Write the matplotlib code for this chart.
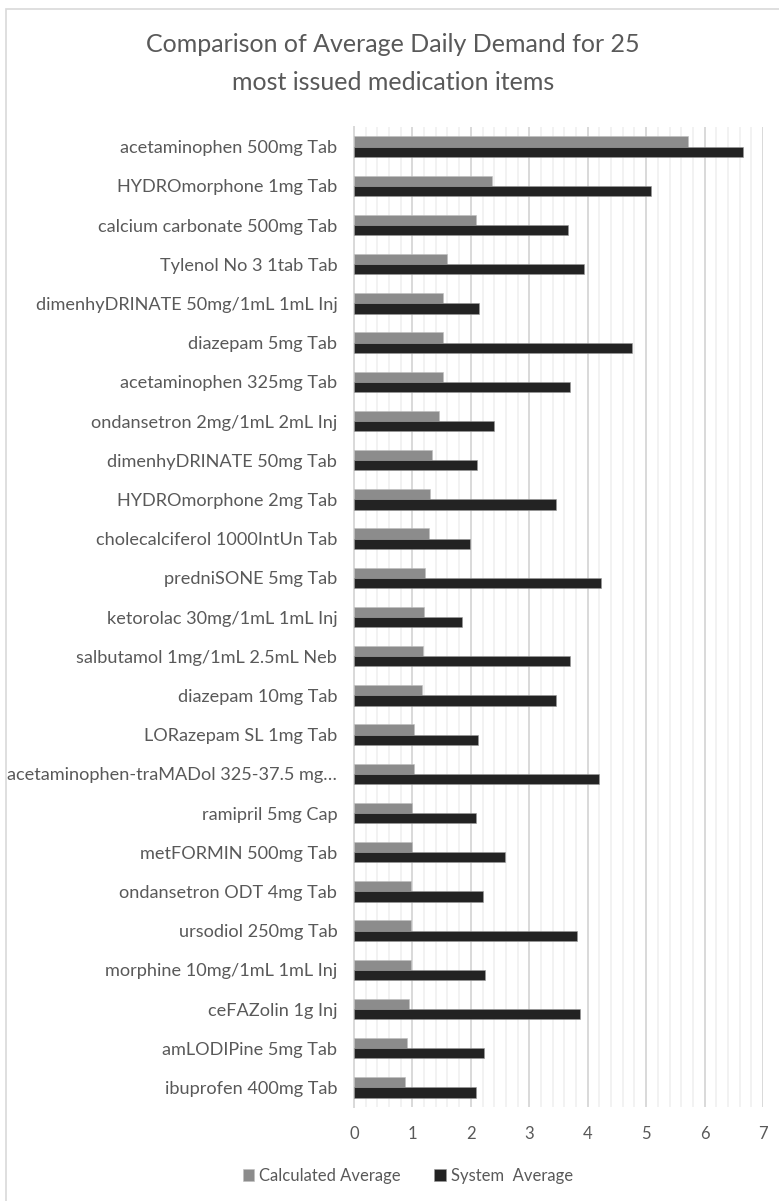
import numpy as np
import matplotlib as mpl
mpl.use("Agg")
import matplotlib.pyplot as plt
from matplotlib.patches import Rectangle
from matplotlib.ticker import MultipleLocator

plt.rcParams["font.family"] = ["Lato", "DejaVu Sans"]

ITEMS = [
    "acetaminophen 500mg Tab",
    "HYDROmorphone 1mg Tab",
    "calcium carbonate 500mg Tab",
    "Tylenol No 3 1tab Tab",
    "dimenhyDRINATE 50mg/1mL 1mL Inj",
    "diazepam 5mg Tab",
    "acetaminophen 325mg Tab",
    "ondansetron 2mg/1mL 2mL Inj",
    "dimenhyDRINATE 50mg Tab",
    "HYDROmorphone 2mg Tab",
    "cholecalciferol 1000IntUn Tab",
    "predniSONE 5mg Tab",
    "ketorolac 30mg/1mL 1mL Inj",
    "salbutamol 1mg/1mL 2.5mL Neb",
    "diazepam 10mg Tab",
    "LORazepam SL 1mg Tab",
    "acetaminophen-traMADol 325-37.5 mg\u2026",
    "ramipril 5mg Cap",
    "metFORMIN 500mg Tab",
    "ondansetron ODT 4mg Tab",
    "ursodiol 250mg Tab",
    "morphine 10mg/1mL 1mL Inj",
    "ceFAZolin 1g Inj",
    "amLODIPine 5mg Tab",
    "ibuprofen 400mg Tab",
]
CALCULATED = [5.72, 2.36, 2.09, 1.59, 1.52, 1.52, 1.52, 1.46, 1.34, 1.30,
              1.29, 1.22, 1.20, 1.18, 1.17, 1.03, 1.02, 1.00, 1.00, 0.98,
              0.97, 0.97, 0.94, 0.91, 0.87]
SYSTEM = [6.65, 5.09, 3.66, 3.93, 2.14, 4.75, 3.70, 2.39, 2.11, 3.45,
          1.98, 4.22, 1.84, 3.70, 3.45, 2.13, 4.20, 2.09, 2.59, 2.20,
          3.82, 2.25, 3.86, 2.22, 2.09]
XTICKS = list(range(0, 8))

TXT = "#595959"
C_CALC = "#8c8c8c"
C_SYS = "#232323"

W, H = 779, 1201
fig = plt.figure(figsize=(W / 100, H / 100), dpi=100)
fig.add_artist(Rectangle((6 / W, -0.01), 1.02, 1 - 9 / H + 0.01,
                         transform=fig.transFigure, fc="white",
                         ec="#d9d9d9", lw=1.2, zorder=0))

ax = fig.add_axes([354 / W, 94 / H, 409 / W, 980 / H])
y = np.arange(len(ITEMS))
bh = 0.26
ax.barh(y - bh / 2, CALCULATED, height=bh, color=C_CALC,
        edgecolor="#bfbfbf", linewidth=0.4, zorder=3, label="Calculated Average")
ax.barh(y + bh / 2, SYSTEM, height=bh, color=C_SYS,
        edgecolor="#9a9a9a", linewidth=0.4, zorder=3, label="System  Average")

ax.set_ylim(len(ITEMS) - 0.5, -0.5)
ax.set_xlim(0, 7)
ax.set_yticks(y)
ax.set_yticklabels(ITEMS, fontsize=13.1, color=TXT)
ax.set_xticks(XTICKS)
ax.set_xticklabels([str(t) for t in XTICKS], fontsize=12, color=TXT)
ax.xaxis.set_minor_locator(MultipleLocator(0.2))
ax.tick_params(axis="both", which="both", length=0)
ax.tick_params(axis="y", pad=12)
ax.tick_params(axis="x", pad=14)
ax.grid(axis="x", which="major", color="#d9d9d9", lw=1.4, zorder=0)
ax.grid(axis="x", which="minor", color="#f0f0f0", lw=1.2, zorder=0)
for s in ("top", "right", "bottom"):
    ax.spines[s].set_visible(False)
ax.spines["left"].set_color("#d9d9d9")
ax.spines["left"].set_linewidth(1.4)

fig.text(393 / W, 1 - 45 / H, "Comparison of Average Daily Demand for 25",
         ha="center", va="center", fontsize=18, color=TXT)
fig.text(393 / W, 1 - 82 / H, "most issued medication items",
         ha="center", va="center", fontsize=18, color=TXT)

fig.legend(loc="center", bbox_to_anchor=(408 / W, 1 - 1176 / H), ncol=2,
           frameon=False, fontsize=12, labelcolor=TXT, handlelength=0.7,
           handleheight=0.7, handletextpad=0.3, columnspacing=2.0)

fig.savefig("out.png", dpi=100)
